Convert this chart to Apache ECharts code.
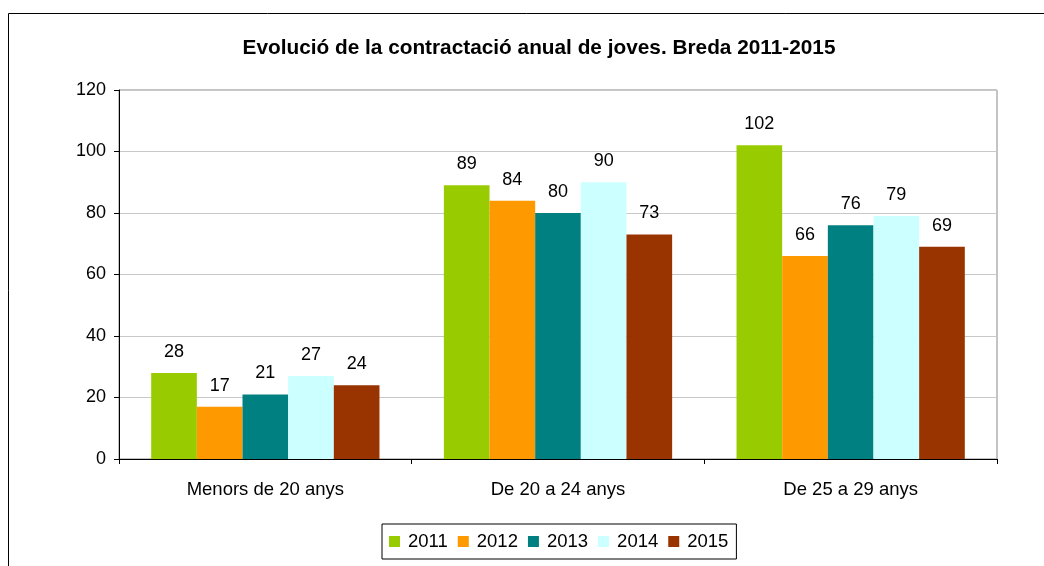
<!DOCTYPE html>
<html>
<head>
<meta charset="utf-8">
<script src="https://cdn.jsdelivr.net/npm/echarts@6/dist/echarts.min.js"></script>
<style>
  html, body { margin: 0; padding: 0; background: #fff; }
  #chart { width: 1044px; height: 566px; }
</style>
</head>
<body>
<div id="chart"></div>
<script>
const categories = ["Menors de 20 anys", "De 20 a 24 anys", "De 25 a 29 anys"];
const years = ["2011", "2012", "2013", "2014", "2015"];
const colors = ["#99CC00", "#FF9900", "#008080", "#CCFFFF", "#993300"];
const values2011 = [28, 89, 102];
const values2012 = [17, 84, 66];
const values2013 = [21, 80, 76];
const values2014 = [27, 90, 79];
const values2015 = [24, 73, 69];
const allValues = [values2011, values2012, values2013, values2014, values2015];

const FONT = "Liberation Sans, Arial, sans-serif";

let myChart = echarts.init(document.querySelector("#chart"));

// one bar series per year
const series = years.map(function (y, i) {
    return {
        name: y,
        type: "bar",
        data: allValues[i],
        barGap: "0%",
        barCategoryGap: "22%",
        itemStyle: { color: colors[i] },
        label: {
            show: true,
            position: "top",
            distance: 12,
            color: "#000",
            fontFamily: FONT,
            fontSize: 18,
        },
    };
});

option = {
    animation: false,
    backgroundColor: "#fff",
    title: {
        text: "Evolució de la contractació anual de joves. Breda 2011-2015",
        left: 534,
        top: 33,
        textAlign: "center",
        textStyle: {
            fontFamily: FONT,
            fontSize: 20.8,
            fontWeight: "bold",
            color: "#000",
        },
    },
    legend: {
        data: years,
        left: 382,
        top: 524,
        itemWidth: 11,
        itemHeight: 11,
        itemGap: 10,
        icon: "rect",
        borderColor: "#000",
        borderWidth: 1,
        borderRadius: 0,
        padding: [8, 8, 8, 7],
        textStyle: { fontFamily: FONT, fontSize: 18.5, color: "#000", padding: [0, 0, 0, 3] },
    },
    grid: {
        left: 119,
        top: 90,
        width: 878,
        height: 369,
        show: true,
        borderColor: "#888",
        borderWidth: 1,
        backgroundColor: "#fff",
    },
    xAxis: {
        type: "category",
        data: categories,
        axisLine: { lineStyle: { color: "#000", width: 1 } },
        axisTick: { show: true, length: 5, lineStyle: { color: "#000" } },
        axisLabel: {
            fontFamily: FONT,
            fontSize: 18.5,
            color: "#000",
            margin: 21,
        },
    },
    yAxis: {
        type: "value",
        min: 0,
        max: 120,
        interval: 20,
        axisLine: { show: true, lineStyle: { color: "#000", width: 1 } },
        axisTick: { show: true, length: 5, lineStyle: { color: "#000" } },
        axisLabel: {
            fontFamily: FONT,
            fontSize: 18,
            color: "#000",
            margin: 13,
        },
        splitLine: { lineStyle: { color: "#c8c8c8", width: 1 } },
    },
    graphic: [
        {
            type: "rect",
            shape: { x: 8.5, y: 13.5, width: 1100, height: 700 },
            style: { fill: null, stroke: "#000", lineWidth: 1 },
            silent: true,
            z: 100,
        },
    ],
    series: series,
};
myChart.setOption(option);
window.addEventListener("resize", function () {
    myChart.resize();
});
</script>
</body>
</html>
